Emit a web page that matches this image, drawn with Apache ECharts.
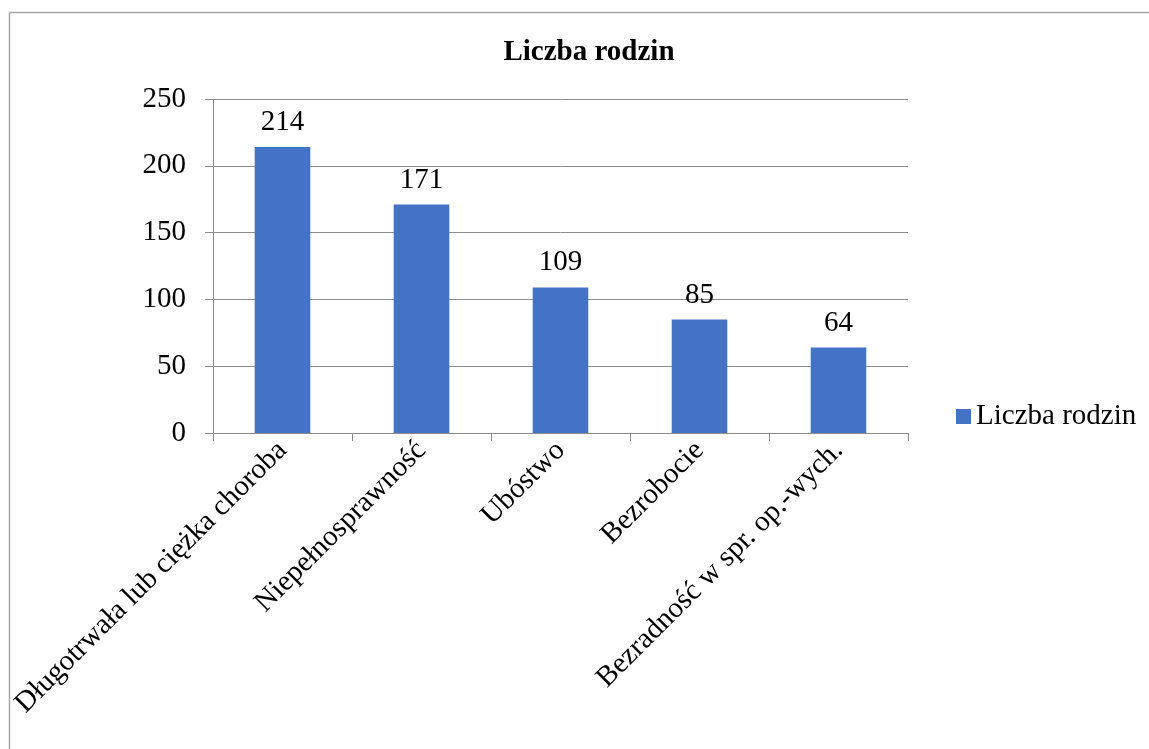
<!DOCTYPE html>
<html>
<head>
<meta charset="utf-8">
<script src="https://cdn.jsdelivr.net/npm/echarts@6/dist/echarts.min.js"></script>
<style>
  html, body { margin: 0; padding: 0; background: #fff; }
  #chart { width: 1149px; height: 749px; }
</style>
</head>
<body>
<div id="chart"></div>
<script>
const categories = [
  'Długotrwała lub ciężka choroba',
  'Niepełnosprawność',
  'Ubóstwo',
  'Bezrobocie',
  'Bezradność w spr. op.-wych.'
];
const familyCounts = [214, 171, 109, 85, 64];
const seriesName = 'Liczba rodzin';

const serif = '"Liberation Serif", "Times New Roman", serif';
const gridGrey = '#8c8c8c';

const chart = echarts.init(document.getElementById('chart'));
chart.setOption({
  backgroundColor: '#fff',
  animation: false,
  textStyle: { fontFamily: serif },
  title: {
    text: 'Liczba rodzin',
    left: 584,
    textAlign: 'center',
    top: 33,
    textStyle: { fontFamily: serif, fontSize: 29, fontWeight: 'bold', color: '#000' }
  },
  // outer frame (only left and top edges are visible in the crop)
  graphic: [
    { type: 'line', shape: { x1: 9.5, y1: 12.5, x2: 1149, y2: 12.5 }, style: { stroke: '#a6a6a6', lineWidth: 1.5 } },
    { type: 'line', shape: { x1: 9.5, y1: 12.5, x2: 9.5, y2: 749 }, style: { stroke: '#a6a6a6', lineWidth: 1.5 } }
  ],
  legend: {
    data: [seriesName],
    left: 951,
    top: 397,
    itemWidth: 15,
    itemHeight: 15,
    icon: 'rect',
    textStyle: { fontFamily: serif, fontSize: 29, color: '#000' }
  },
  grid: { left: 213, right: 241, top: 99, bottom: 316, containLabel: false },
  xAxis: {
    type: 'category',
    data: categories,
    axisLine: { lineStyle: { color: gridGrey, width: 1 } },
    axisTick: { show: true, length: 8, lineStyle: { color: gridGrey } },
    axisLabel: {
      rotate: 45,
      interval: 0,
      margin: 13,
      fontFamily: serif,
      fontSize: 29,
      color: '#000'
    }
  },
  yAxis: {
    type: 'value',
    min: 0,
    max: 250,
    interval: 50,
    axisLine: { show: true, lineStyle: { color: gridGrey } },
    axisTick: { show: true, length: 8, lineStyle: { color: gridGrey } },
    splitLine: { lineStyle: { color: gridGrey, width: 1 } },
    axisLabel: { margin: 27, fontFamily: serif, fontSize: 29, color: '#000' }
  },
  series: [{
    name: seriesName,
    type: 'bar',
    data: familyCounts,
    barWidth: '40%',
    itemStyle: { color: '#4472C4' },
    label: {
      show: true,
      position: 'top',
      distance: 10,
      fontFamily: serif,
      fontSize: 29,
      color: '#000'
    }
  }]
});
</script>
</body>
</html>
